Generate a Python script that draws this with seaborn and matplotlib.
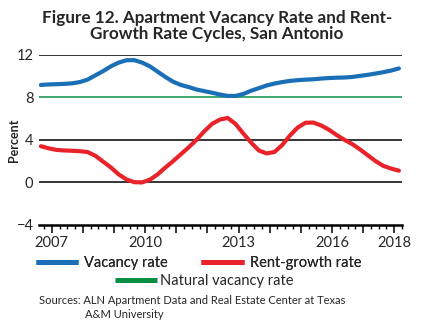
import numpy as np
import pandas as pd
import matplotlib
matplotlib.use("Agg")
import matplotlib.pyplot as plt
from matplotlib.lines import Line2D
from matplotlib.ticker import FixedLocator, FixedFormatter, MultipleLocator
import seaborn as sns

# ---- data (quarterly) ----
quarters = 2006.65 + 0.25 * np.arange(47)
vacancy_rate = [9.15, 9.2, 9.22, 9.25, 9.3, 9.42, 9.65, 10.05, 10.45, 10.9,
                11.25, 11.47, 11.48, 11.25, 10.9, 10.4, 9.9, 9.45, 9.15, 8.95,
                8.72, 8.57, 8.42, 8.25, 8.12, 8.12, 8.3, 8.6, 8.85, 9.1,
                9.28, 9.42, 9.53, 9.6, 9.65, 9.68, 9.75, 9.8, 9.83, 9.85,
                9.9, 10.0, 10.1, 10.22, 10.35, 10.5, 10.7]
rent_growth_rate = [3.4, 3.2, 3.05, 3.0, 2.97, 2.93, 2.85, 2.5, 1.95, 1.4,
                    0.75, 0.28, 0.02, 0.0, 0.25, 0.75, 1.4, 2.0, 2.65, 3.3,
                    4.0, 4.8, 5.5, 5.9, 6.05, 5.5, 4.6, 3.75, 3.0, 2.72,
                    2.85, 3.5, 4.4, 5.15, 5.6, 5.62, 5.35, 4.95, 4.45, 4.0,
                    3.6, 3.1, 2.55, 2.0, 1.55, 1.3, 1.1]
natural_vacancy_rate = 8
series_names = ["Vacancy rate", "Rent-growth rate", "Natural vacancy rate"]
year_ticks = list(range(2007, 2019))
year_labels = ["2007", "", "", "2010", "", "", "2013", "", "", "2016", "", "2018"]
y_ticks = [-4, 0, 4, 8, 12]

colors = {"Vacancy rate": "#1b6fb6", "Rent-growth rate": "#e8242a",
          "Natural vacancy rate": "#0b8f45"}

df = pd.DataFrame({
    "t": np.concatenate([quarters, quarters]),
    "value": vacancy_rate + rent_growth_rate,
    "series": [series_names[0]] * len(quarters) + [series_names[1]] * len(quarters),
})

sns.set_style("white")
plt.rcParams["font.family"] = ["Lato", "DejaVu Sans"]

fig = plt.figure(figsize=(4.22, 3.31), dpi=100)
ax = fig.add_axes([39 / 422, 1 - 225 / 331, (402 - 39) / 422, (225 - 54.6) / 331])

# gridlines
for yv in [12, 4, 0]:
    ax.axhline(yv, color="black", lw=1.1, zorder=1)
ax.axhline(natural_vacancy_rate, color=colors["Natural vacancy rate"], lw=1.1, zorder=2)

sns.lineplot(data=df, x="t", y="value", hue="series",
             palette={k: colors[k] for k in series_names[:2]},
             linewidth=3.0, legend=False, ax=ax, zorder=3)

ax.set_xlim(2006.59, 2018.25)
ax.set_ylim(-4, 12)
ax.set_xlabel("")
ax.set_ylabel("Percent", fontsize=9, fontweight="bold")
ax.yaxis.set_label_coords((20 - 39) / 363, 0.5)

for s in ["left", "right", "top"]:
    ax.spines[s].set_visible(False)
ax.spines["bottom"].set_color("black")
ax.spines["bottom"].set_linewidth(1.8)
ax.spines["bottom"].set_zorder(5)

ax.xaxis.set_major_locator(FixedLocator(year_ticks))
ax.xaxis.set_major_formatter(FixedFormatter(year_labels))
ax.xaxis.set_minor_locator(MultipleLocator(0.25))
ax.tick_params(axis="x", which="major", direction="out", length=6, width=1.1,
               color="black", labelsize=10.5, pad=2, bottom=True)
ax.tick_params(axis="x", which="minor", direction="out", length=3, width=1.0,
               color="black", bottom=True)
ax.set_yticks(y_ticks)
ax.set_yticklabels(["\u22124", "0", "4", "8", "12"])
ax.tick_params(axis="y", length=0, labelsize=10.5, pad=4)

# title
fig.text(0.514, 1 - 10 / 331,
         "Figure 12. Apartment Vacancy Rate and Rent-\nGrowth Rate Cycles, San Antonio",
         ha="center", va="top", fontsize=12.3, fontweight="bold",
         linespacing=1.0)

# legends
h1 = [Line2D([], [], color=colors[series_names[0]], lw=3.6, solid_capstyle="butt"),
      Line2D([], [], color=colors[series_names[1]], lw=3.6, solid_capstyle="butt")]
leg1 = fig.legend(h1, series_names[:2], loc="center", ncol=2,
                  bbox_to_anchor=(198.5 / 422, 1 - 263 / 331), frameon=False,
                  fontsize=10.5, handlelength=2.9, handletextpad=0.4,
                  columnspacing=2.3, borderpad=0, borderaxespad=0)
h2 = [Line2D([], [], color=colors[series_names[2]], lw=3.6, solid_capstyle="butt")]
leg2 = fig.legend(h2, series_names[2:], loc="center", ncol=1,
                  bbox_to_anchor=(204 / 422, 1 - 281 / 331), frameon=False,
                  fontsize=10.5, handlelength=2.9, handletextpad=0.2,
                  borderpad=0, borderaxespad=0)
fig.add_artist(leg1)

fig.text(39 / 422, 1 - 300 / 331,
         "Sources: ALN Apartment Data and Real Estate Center at Texas",
         ha="left", va="center", fontsize=8)
fig.text(85 / 422, 1 - 315 / 331, "A&M University",
         ha="left", va="center", fontsize=8)

fig.savefig("out.png", dpi=100)
